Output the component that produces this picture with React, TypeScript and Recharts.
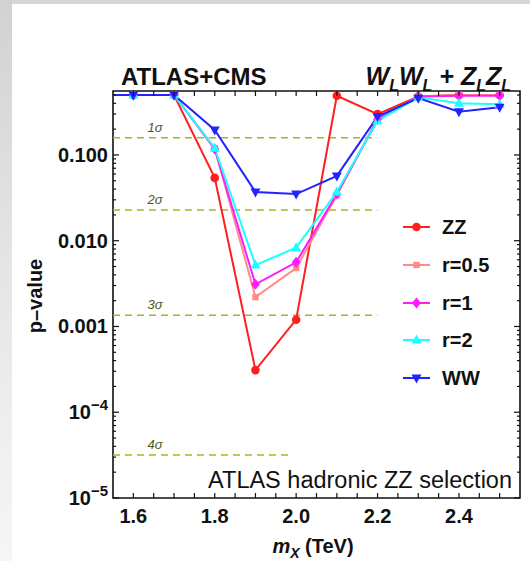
import React from 'react';
import { LineChart, Line, XAxis, YAxis, ReferenceLine, ReferenceArea } from 'recharts';

// p-values, one per mass point (TeV)
const masses = [1.5, 1.6, 1.7, 1.8, 1.9, 2.0, 2.1, 2.2, 2.3, 2.4, 2.5];
const zzValues = [0.5, 0.5, 0.5, 0.054, 0.00031, 0.0012, 0.49, 0.3, 0.48, 0.5, 0.5];
const r05Values = [0.5, 0.5, 0.5, 0.12, 0.0022, 0.0048, 0.034, 0.26, 0.48, 0.5, 0.5];
const r1Values = [0.5, 0.5, 0.5, 0.117, 0.0031, 0.0056, 0.035, 0.26, 0.48, 0.49, 0.49];
const r2Values = [0.5, 0.5, 0.5, 0.12, 0.0052, 0.0083, 0.037, 0.25, 0.47, 0.4, 0.39];
const wwValues = [0.5, 0.5, 0.5, 0.196, 0.037, 0.035, 0.057, 0.28, 0.46, 0.32, 0.36];

const xTicks = [1.6, 1.65, 1.7, 1.75, 1.8, 1.85, 1.9, 1.95, 2.0, 2.05, 2.1, 2.15, 2.2, 2.25, 2.3, 2.35, 2.4, 2.45, 2.5];
const xLabels = [1.6, 1.8, 2.0, 2.2, 2.4];
const yMajor = [1e-5, 1e-4, 1e-3, 1e-2, 1e-1];
const yMinor = [
  2e-5, 3e-5, 4e-5, 5e-5, 6e-5, 7e-5, 8e-5, 9e-5,
  2e-4, 3e-4, 4e-4, 5e-4, 6e-4, 7e-4, 8e-4, 9e-4,
  2e-3, 3e-3, 4e-3, 5e-3, 6e-3, 7e-3, 8e-3, 9e-3,
  2e-2, 3e-2, 4e-2, 5e-2, 6e-2, 7e-2, 8e-2, 9e-2,
  0.2, 0.3, 0.4, 0.5,
];

const sigmaNames = ['1σ', '2σ', '3σ', '4σ'];
const sigmaP = [0.1587, 0.0228, 0.00135, 0.0000317];
const sigmaEnd = [2.2, 2.2, 2.2, 1.99];

const series = [
  { key: 'zz', name: 'ZZ', color: '#ff1f1f', shape: 'circle', values: zzValues },
  { key: 'r05', name: 'r=0.5', color: '#ff8a8a', shape: 'square', values: r05Values },
  { key: 'r1', name: 'r=1', color: '#ff1aff', shape: 'diamond', values: r1Values },
  { key: 'r2', name: 'r=2', color: '#1affff', shape: 'up', values: r2Values },
  { key: 'ww', name: 'WW', color: '#2323ff', shape: 'down', values: wwValues },
];

const data = masses.map((m, i) => {
  const row: Record<string, number> = { m };
  series.forEach((s) => (row[s.key] = s.values[i]));
  return row;
});

const FONT = '"Liberation Sans", Arial, Helvetica, sans-serif';
const PLOT_W = 407;
const PLOT_H = 407;
const SIGMA_COLOR = '#b2b21c';

function Marker({ cx, cy, shape, color }: any) {
  if (cx == null || cy == null || isNaN(cx) || isNaN(cy)) return null;
  switch (shape) {
    case 'circle':
      return <circle cx={cx} cy={cy} r={4.3} fill={color} />;
    case 'square':
      return <rect x={cx - 3.2} y={cy - 3.2} width={6.4} height={6.4} fill={color} />;
    case 'diamond':
      return <polygon points={`${cx},${cy - 5.5} ${cx + 4.5},${cy} ${cx},${cy + 5.5} ${cx - 4.5},${cy}`} fill={color} />;
    case 'up':
      return <polygon points={`${cx},${cy - 5.5} ${cx + 5},${cy + 3.5} ${cx - 5},${cy + 3.5}`} fill={color} />;
    default:
      return <polygon points={`${cx},${cy + 5.5} ${cx + 5},${cy - 3.5} ${cx - 5},${cy - 3.5}`} fill={color} />;
  }
}

function XTick({ x, y, payload }: any) {
  const v = payload.value;
  const labelled = xLabels.some((l) => Math.abs(l - v) < 1e-6);
  return (
    <g>
      <line x1={x} x2={x} y1={y} y2={y - 5} stroke="#111" strokeWidth={1.2} />
      <line x1={x} x2={x} y1={y - PLOT_H} y2={y - PLOT_H + 5} stroke="#111" strokeWidth={1.2} />
      {labelled && (
        <text x={x} y={y + 25} textAnchor="middle" fontFamily={FONT} fontWeight="bold" fontSize={20} fill="#111">
          {v.toFixed(1)}
        </text>
      )}
    </g>
  );
}

function YTick({ x, y, payload }: any) {
  const v = payload.value;
  const exp = Math.round(Math.log10(v));
  const major = yMajor.some((m) => Math.abs(m - v) / m < 1e-6);
  const len = major ? 6 : 3;
  let label: React.ReactNode = null;
  if (major) {
    if (exp >= -3) {
      label = v.toFixed(3);
    } else {
      label = (
        <>
          <tspan>10</tspan>
          <tspan dy={-9} fontSize={15}>{`−${-exp}`}</tspan>
        </>
      );
    }
  }
  return (
    <g>
      <line x1={x} x2={x + len} y1={y} y2={y} stroke="#111" strokeWidth={1.2} />
      <line x1={x + PLOT_W} x2={x + PLOT_W - len} y1={y} y2={y} stroke="#111" strokeWidth={1.2} />
      {label && (
        <text x={x - 5} y={y + 7} textAnchor="end" fontFamily={FONT} fontWeight="bold" fontSize={20} fill="#111">
          {label}
        </text>
      )}
    </g>
  );
}

function SigmaLabel(text: string) {
  return (props: any) => {
    const vb = props.viewBox;
    if (!vb) return null;
    return (
      <text x={vb.x + 42} y={vb.y - 6} textAnchor="middle" fontFamily={FONT} fontStyle="italic" fontSize={13} fill="#55551a">
        {text}
      </text>
    );
  };
}

function Overlay() {
  const legendY = [227, 265, 303, 340, 378];
  return (
    <svg width={530} height={561} style={{ position: 'absolute', left: 0, top: 0, pointerEvents: 'none' }}>
      <text x={121} y={85} fontFamily={FONT} fontWeight="bold" fontSize={24} fill="#111">
        ATLAS+CMS
      </text>
      <text x={511} y={85} textAnchor="end" fontFamily={FONT} fontWeight="bold" fontStyle="italic" fontSize={25} fill="#111">
        <tspan>W</tspan>
        <tspan dy={6} fontSize={16}>L</tspan>
        <tspan dy={-6}>W</tspan>
        <tspan dy={6} fontSize={16}>L</tspan>
        <tspan dy={-6}> + Z</tspan>
        <tspan dy={6} fontSize={16}>L</tspan>
        <tspan dy={-6}>Z</tspan>
        <tspan dy={6} fontSize={16}>L</tspan>
      </text>
      <text x={512} y={488} textAnchor="end" fontFamily={FONT} fontSize={23.5} fill="#111">
        ATLAS hadronic ZZ selection
      </text>
      <text
        x={0}
        y={0}
        transform="translate(42,296) rotate(-90)"
        textAnchor="middle"
        fontFamily={FONT}
        fontWeight="bold"
        fontSize={20}
        fill="#111"
      >
        p–value
      </text>
      <text x={313} y={553} textAnchor="middle" fontFamily={FONT} fontWeight="bold" fontSize={20} fill="#111">
        <tspan fontStyle="italic">m</tspan>
        <tspan fontStyle="italic" fontSize={14} dy={5}>X</tspan>
        <tspan dy={-5}> (TeV)</tspan>
      </text>
      {series.map((s, i) => (
        <g key={s.key}>
          <line x1={403} x2={430} y1={legendY[i]} y2={legendY[i]} stroke={s.color} strokeWidth={2} />
          <Marker cx={416.5} cy={legendY[i]} shape={s.shape} color={s.color} />
          <text x={442} y={legendY[i] + 7} fontFamily={FONT} fontWeight="bold" fontSize={20} fill="#111">
            {s.name}
          </text>
        </g>
      ))}
    </svg>
  );
}

export default function App() {
  return (
    <div style={{ position: 'absolute', left: 0, top: 0, width: 530, height: 561, background: '#fff', overflow: 'hidden' }}>
      <div style={{ position: 'absolute', left: 0, top: 0, width: 530, height: 4, background: '#d6d6d6' }} />
      <div
        style={{
          position: 'absolute',
          left: 0,
          top: 0,
          width: 12,
          height: 561,
          background: 'linear-gradient(to bottom, #d2d2d2, #e6e6e6 50%, #f6f6f6)',
        }}
      />
      <LineChart
        width={530}
        height={561}
        data={data}
        margin={{ top: 91, right: 10, bottom: 13, left: 13 }}
        style={{ position: 'absolute', left: 0, top: 0 }}
      >
        <XAxis
          dataKey="m"
          type="number"
          domain={[1.55, 2.55]}
          allowDataOverflow
          ticks={xTicks}
          interval={0}
          tickSize={0}
          tickMargin={0}
          axisLine={false}
          tickLine={false}
          tick={<XTick />}
          height={50}
        />
        <YAxis
          type="number"
          scale="log"
          domain={[1e-5, 0.557]}
          allowDataOverflow
          ticks={[...yMajor, ...yMinor]}
          interval={0}
          tickSize={0}
          tickMargin={0}
          axisLine={false}
          tickLine={false}
          tick={<YTick />}
          width={100}
        />
        {sigmaNames.map((name, i) => (
          <ReferenceLine
            key={name}
            segment={[
              { x: 1.55, y: sigmaP[i] },
              { x: sigmaEnd[i], y: sigmaP[i] },
            ]}
            stroke={SIGMA_COLOR}
            strokeWidth={1.6}
            strokeDasharray="7 5"
            label={SigmaLabel(name)}
          />
        ))}
        {series.map((s) => (
          <Line
            key={s.key}
            dataKey={s.key}
            stroke={s.color}
            strokeWidth={2}
            isAnimationActive={false}
            dot={(p: any) => <Marker key={`${s.key}-${p.index}`} cx={p.cx} cy={p.cy} shape={s.shape} color={s.color} />}
            activeDot={false}
          />
        ))}
        <ReferenceArea x1={1.55} x2={2.55} y1={1e-5} y2={0.557} fill="none" stroke="#111" strokeWidth={1.6} />
      </LineChart>
      <Overlay />
    </div>
  );
}
